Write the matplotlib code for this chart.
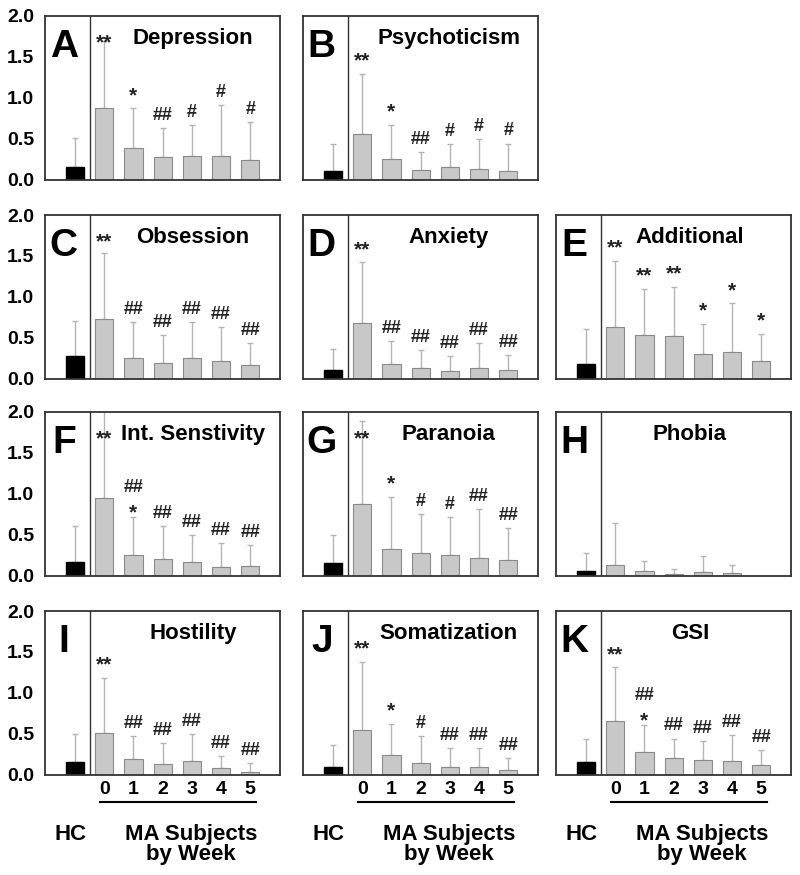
import matplotlib
matplotlib.use("Agg")
import matplotlib.pyplot as plt
import numpy as np

plt.rcParams['font.family'] = ['Liberation Sans', 'DejaVu Sans']

# panel data: HC mean/SD, then weeks 0-5 mean/SD
letters = ['A', 'B', 'C', 'D', 'E', 'F', 'G', 'H', 'I', 'J', 'K']
names = ['Depression', 'Psychoticism', 'Obsession', 'Anxiety', 'Additional',
         'Int. Senstivity', 'Paranoia', 'Phobia', 'Hostility', 'Somatization', 'GSI']
grid_pos = [(0, 0), (0, 1), (1, 0), (1, 1), (1, 2), (2, 0), (2, 1), (2, 2),
            (3, 0), (3, 1), (3, 2)]

hc_mean = [0.15, 0.11, 0.27, 0.105, 0.175, 0.17, 0.155, 0.06, 0.15, 0.095, 0.15]
hc_sd = [0.36, 0.32, 0.43, 0.255, 0.425, 0.44, 0.345, 0.22, 0.345, 0.265, 0.28]

week_mean = [
    [0.87, 0.38, 0.27, 0.29, 0.29, 0.24],
    [0.56, 0.245, 0.12, 0.155, 0.13, 0.105],
    [0.73, 0.245, 0.195, 0.25, 0.215, 0.16],
    [0.68, 0.18, 0.125, 0.095, 0.13, 0.11],
    [0.635, 0.53, 0.52, 0.305, 0.325, 0.215],
    [0.95, 0.245, 0.20, 0.17, 0.11, 0.115],
    [0.87, 0.325, 0.27, 0.25, 0.21, 0.19],
    [0.125, 0.05, 0.015, 0.04, 0.03, 0.0],
    [0.51, 0.185, 0.13, 0.17, 0.075, 0.025],
    [0.55, 0.24, 0.145, 0.09, 0.09, 0.055],
    [0.655, 0.27, 0.20, 0.18, 0.165, 0.115],
]
week_sd = [
    [0.82, 0.49, 0.36, 0.38, 0.62, 0.46],
    [0.73, 0.425, 0.22, 0.275, 0.36, 0.335],
    [0.81, 0.445, 0.335, 0.44, 0.415, 0.27],
    [0.74, 0.28, 0.225, 0.185, 0.30, 0.18],
    [0.805, 0.57, 0.60, 0.365, 0.595, 0.335],
    [1.15, 0.465, 0.40, 0.33, 0.29, 0.255],
    [1.02, 0.635, 0.48, 0.46, 0.60, 0.39],
    [0.515, 0.13, 0.065, 0.20, 0.10, 0.0],
    [0.67, 0.29, 0.25, 0.32, 0.155, 0.12],
    [0.83, 0.38, 0.325, 0.23, 0.23, 0.15],
    [0.655, 0.33, 0.24, 0.225, 0.315, 0.185],
]
# significance vs HC (stars) and vs week 0 (hashes)
stars = [
    ['**', '*', '', '', '', ''],
    ['**', '*', '', '', '', ''],
    ['**', '', '', '', '', ''],
    ['**', '', '', '', '', ''],
    ['**', '**', '**', '*', '*', '*'],
    ['**', '*', '', '', '', ''],
    ['**', '*', '', '', '', ''],
    ['', '', '', '', '', ''],
    ['**', '', '', '', '', ''],
    ['**', '*', '', '', '', ''],
    ['**', '*', '', '', '', ''],
]
hashes = [
    ['', '', '##', '#', '#', '#'],
    ['', '', '##', '#', '#', '#'],
    ['', '##', '##', '##', '##', '##'],
    ['', '##', '##', '##', '##', '##'],
    ['', '', '', '', '', ''],
    ['', '##', '##', '##', '##', '##'],
    ['', '', '#', '#', '##', '##'],
    ['', '', '', '', '', ''],
    ['', '##', '##', '##', '##', '##'],
    ['', '', '#', '##', '##', '##'],
    ['', '##', '##', '##', '##', '##'],
]
week_labels = ['0', '1', '2', '3', '4', '5']

W, H = 800, 875
fig = plt.figure(figsize=(8, 8.75), dpi=100)
col_left = [45, 303, 556]
row_top = [16, 215, 412, 611]
ax_w, ax_h = 235, 163.5
title_x = [0.63, 0.62, 0.57]

edge = '#333333'
for i in range(len(letters)):
    r, c = grid_pos[i]
    ax = fig.add_axes([col_left[c] / W, 1 - (row_top[r] + ax_h) / H, ax_w / W, ax_h / H])
    x_w = np.arange(1, 7)
    means = np.array(week_mean[i])
    sds = np.array(week_sd[i])

    ax.bar(0, hc_mean[i], width=0.62, color='black', edgecolor='black', zorder=2)
    ax.bar(x_w, means, width=0.62, color='#c8c8c8', edgecolor='#8a8a8a', linewidth=0.8, zorder=2)
    ax.errorbar([0], [hc_mean[i]], yerr=[[0], [hc_sd[i]]], fmt='none',
                ecolor='#b5b5b5', elinewidth=1, capsize=2, zorder=1)
    ok = sds > 0
    ax.errorbar(x_w[ok], means[ok], yerr=[np.zeros(ok.sum()), sds[ok]], fmt='none',
                ecolor='#b5b5b5', elinewidth=1, capsize=2, zorder=1)

    for xx, m, s, st, hs in zip(x_w, means, sds, stars[i], hashes[i]):
        top = m + s
        if st and hs:
            ax.text(xx, top - 0.06, st, ha='center', va='bottom', fontsize=15,
                    fontweight='bold', color='#222222')
            ax.text(xx, top + 0.26, hs, ha='center', va='bottom', fontsize=13,
                    fontweight='bold', color='#222222')
        elif st:
            ax.text(xx, min(top + 0.04, 1.56), st, ha='center', va='bottom',
                    fontsize=15, fontweight='bold', color='#222222')
        elif hs:
            ax.text(xx, top + 0.05, hs, ha='center', va='bottom', fontsize=13,
                    fontweight='bold', color='#222222')

    ax.axvline(0.5, color=edge, lw=1)
    ax.set_xlim(-1.03, 7.02)
    ax.set_ylim(0, 2.0)
    for sp in ax.spines.values():
        sp.set_color(edge)
        sp.set_linewidth(1.3)

    ax.text(0.08, 0.81, letters[i], transform=ax.transAxes, ha='center', va='center',
            fontsize=28, fontweight='bold')
    ax.text(title_x[c], 0.86, names[i], transform=ax.transAxes, ha='center', va='center',
            fontsize=16, fontweight='bold')

    ax.tick_params(length=0)
    if c == 0:
        ax.set_yticks([0, 0.5, 1.0, 1.5, 2.0])
        ax.set_yticklabels(['%.1f' % v for v in [0, 0.5, 1.0, 1.5, 2.0]],
                           fontsize=14, fontweight='bold')
        ax.tick_params(axis='y', pad=8)
    else:
        ax.set_yticks([])

    if r == 3:
        ax.set_xticks(x_w)
        ax.set_xticklabels(week_labels, fontsize=14, fontweight='bold')
        ax.tick_params(axis='x', pad=5)
        tr = ax.get_xaxis_transform()
        ax.plot([0.85, 6.2], [-0.17, -0.17], color='black', lw=1.5, transform=tr, clip_on=False)
        ax.text(-0.15, -0.367, 'HC', transform=tr, ha='center', va='center',
                fontsize=16, fontweight='bold')
        ax.text(3.97, -0.43, 'MA Subjects\nby Week', transform=tr, ha='center', va='center',
                fontsize=16, fontweight='bold', linespacing=0.95)
    else:
        ax.set_xticks([])

plt.savefig('out.png', dpi=100)
